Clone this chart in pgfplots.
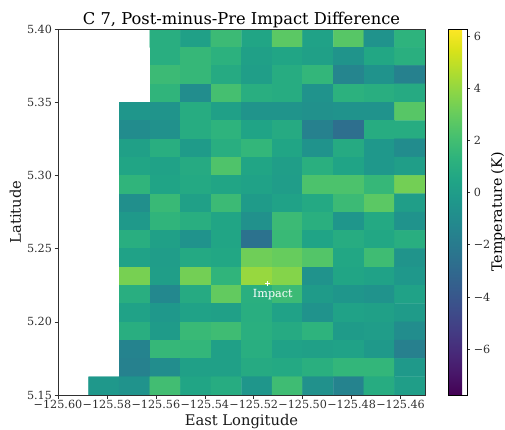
\documentclass[border=0pt]{standalone}
\usepackage{pgfplots}
\usepackage{fontspec}
\setmainfont{DejaVu Serif}
\pgfplotsset{compat=1.18}
\definecolor{axc}{HTML}{303030}
\begin{document}
\begin{tikzpicture}[x=1pt,y=1pt]
\useasboundingbox (-58,-34) rectangle (447,395);
\begin{axis}[
  at={(0,0)},anchor=south west,
  scale only axis,width=367pt,height=366pt,
  xmin=-125.60,xmax=-125.45,ymin=5.15,ymax=5.40,
  axis on top,
  axis line style={color=axc,line width=0.7pt},
  tick align=outside,
  major tick length=3.5pt,
  tick style={color=axc,line width=0.6pt},
  xtick={-125.60,-125.58,-125.56,-125.54,-125.52,-125.50,-125.48,-125.46},
  xticklabels={−125.60,−125.58,−125.56,−125.54,−125.52,−125.50,−125.48,−125.46},
  ytick={5.15,5.20,5.25,5.30,5.35,5.40},
  yticklabels={5.15,5.20,5.25,5.30,5.35,5.40},
  xtick pos=bottom,ytick pos=left,
  ticklabel style={font=\fontsize{11.2}{12}\selectfont,color=axc},
  xticklabel style={yshift=1.5pt},
  yticklabel style={xshift=1pt},
  xlabel={East Longitude},ylabel={Latitude},
  label style={font=\fontsize{14.7}{16}\selectfont,color=black!90},
  xlabel style={yshift=2pt},
  ylabel style={yshift=-1pt},
  title={C 7, Post-minus-Pre Impact Difference},
  title style={font=\fontsize{16.3}{18}\selectfont,yshift=-8pt},
  colormap/viridis,
  point meta min=-7.76,point meta max=6.27,
  colorbar,
  colorbar style={
    at={(1.0627,1)},anchor=north west,
    width=18.7pt,
    ytick={-6,-4,-2,0,2,4,6},
    yticklabels={−6,−4,−2,0,2,4,6},
    ytick pos=right,
    yticklabel pos=right,
    tick align=outside,
    major tick length=3.5pt,
    yticklabel style={font=\fontsize{11.2}{12}\selectfont,color=axc},
    ylabel={Temperature (K)},
    ylabel style={font=\fontsize{14.2}{16}\selectfont,yshift=6pt},
  },
]
\addplot[matrix plot*,mesh/cols=11,mesh/ordering=x varies,point meta=explicit] coordinates {
(-125.58125,5.39375)[nan] (-125.56875,5.39375)[nan] (-125.55625,5.39375)[1.0] (-125.54375,5.39375)[0.2] (-125.53125,5.39375)[1.8] (-125.51875,5.39375)[0.5] (-125.50625,5.39375)[2.7] (-125.49375,5.39375)[0.3] (-125.48125,5.39375)[2.6] (-125.46875,5.39375)[-0.6] (-125.45625,5.39375)[1.3]
(-125.58125,5.38125)[nan] (-125.56875,5.38125)[nan] (-125.55625,5.38125)[1.0] (-125.54375,5.38125)[1.6] (-125.53125,5.38125)[1.2] (-125.51875,5.38125)[0.2] (-125.50625,5.38125)[0.5] (-125.49375,5.38125)[0.2] (-125.48125,5.38125)[-0.5] (-125.46875,5.38125)[0.6] (-125.45625,5.38125)[1.1]
(-125.58125,5.36875)[nan] (-125.56875,5.36875)[nan] (-125.55625,5.36875)[1.8] (-125.54375,5.36875)[1.6] (-125.53125,5.36875)[0.8] (-125.51875,5.36875)[0.1] (-125.50625,5.36875)[0.9] (-125.49375,5.36875)[1.5] (-125.48125,5.36875)[-1.4] (-125.46875,5.36875)[-0.6] (-125.45625,5.36875)[-1.6]
(-125.58125,5.35625)[nan] (-125.56875,5.35625)[nan] (-125.55625,5.35625)[1.4] (-125.54375,5.35625)[-0.9] (-125.53125,5.35625)[2.1] (-125.51875,5.35625)[1.0] (-125.50625,5.35625)[0.9] (-125.49375,5.35625)[-0.6] (-125.48125,5.35625)[1.2] (-125.46875,5.35625)[1.0] (-125.45625,5.35625)[0.8]
(-125.58125,5.34375)[nan] (-125.56875,5.34375)[-0.4] (-125.55625,5.34375)[-0.5] (-125.54375,5.34375)[0.9] (-125.53125,5.34375)[0.2] (-125.51875,5.34375)[-0.5] (-125.50625,5.34375)[-0.5] (-125.49375,5.34375)[-0.7] (-125.48125,5.34375)[-0.6] (-125.46875,5.34375)[-0.6] (-125.45625,5.34375)[2.6]
(-125.58125,5.33125)[nan] (-125.56875,5.33125)[-1.0] (-125.55625,5.33125)[-0.7] (-125.54375,5.33125)[0.9] (-125.53125,5.33125)[1.3] (-125.51875,5.33125)[0.4] (-125.50625,5.33125)[0.8] (-125.49375,5.33125)[-1.6] (-125.48125,5.33125)[-2.7] (-125.46875,5.33125)[0.9] (-125.45625,5.33125)[0.9]
(-125.58125,5.31875)[nan] (-125.56875,5.31875)[0.2] (-125.55625,5.31875)[1.0] (-125.54375,5.31875)[-0.1] (-125.53125,5.31875)[1.0] (-125.51875,5.31875)[1.5] (-125.50625,5.31875)[0.5] (-125.49375,5.31875)[-0.6] (-125.48125,5.31875)[0.8] (-125.46875,5.31875)[-0.3] (-125.45625,5.31875)[-1.0]
(-125.58125,5.30625)[nan] (-125.56875,5.30625)[0.5] (-125.55625,5.30625)[0.3] (-125.54375,5.30625)[0.8] (-125.53125,5.30625)[2.4] (-125.51875,5.30625)[0.5] (-125.50625,5.30625)[0.1] (-125.49375,5.30625)[1.1] (-125.48125,5.30625)[0.4] (-125.46875,5.30625)[-0.3] (-125.45625,5.30625)[0.1]
(-125.58125,5.29375)[nan] (-125.56875,5.29375)[1.4] (-125.55625,5.29375)[0.4] (-125.54375,5.29375)[0.7] (-125.53125,5.29375)[0.5] (-125.51875,5.29375)[0.3] (-125.50625,5.29375)[0.0] (-125.49375,5.29375)[2.3] (-125.48125,5.29375)[2.3] (-125.46875,5.29375)[1.6] (-125.45625,5.29375)[3.3]
(-125.58125,5.28125)[nan] (-125.56875,5.28125)[-0.8] (-125.55625,5.28125)[1.7] (-125.54375,5.28125)[0.2] (-125.53125,5.28125)[1.8] (-125.51875,5.28125)[-0.1] (-125.50625,5.28125)[0.3] (-125.49375,5.28125)[0.7] (-125.48125,5.28125)[1.8] (-125.46875,5.28125)[2.7] (-125.45625,5.28125)[0.1]
(-125.58125,5.26875)[nan] (-125.56875,5.26875)[-0.2] (-125.55625,5.26875)[1.4] (-125.54375,5.26875)[1.0] (-125.53125,5.26875)[0.5] (-125.51875,5.26875)[-0.7] (-125.50625,5.26875)[1.8] (-125.49375,5.26875)[1.1] (-125.48125,5.26875)[-0.4] (-125.46875,5.26875)[0.7] (-125.45625,5.26875)[-0.6]
(-125.58125,5.25625)[nan] (-125.56875,5.25625)[1.0] (-125.55625,5.25625)[0.2] (-125.54375,5.25625)[-0.6] (-125.53125,5.25625)[0.5] (-125.51875,5.25625)[-2.5] (-125.50625,5.25625)[1.7] (-125.49375,5.25625)[0.4] (-125.48125,5.25625)[0.9] (-125.46875,5.25625)[0.6] (-125.45625,5.25625)[1.0]
(-125.58125,5.24375)[nan] (-125.56875,5.24375)[0.3] (-125.55625,5.24375)[0.0] (-125.54375,5.24375)[0.7] (-125.53125,5.24375)[0.6] (-125.51875,5.24375)[3.2] (-125.50625,5.24375)[3.0] (-125.49375,5.24375)[2.5] (-125.48125,5.24375)[0.6] (-125.46875,5.24375)[1.9] (-125.45625,5.24375)[-0.5]
(-125.58125,5.23125)[nan] (-125.56875,5.23125)[3.4] (-125.55625,5.23125)[0.1] (-125.54375,5.23125)[3.3] (-125.53125,5.23125)[1.4] (-125.51875,5.23125)[4.1] (-125.50625,5.23125)[3.7] (-125.49375,5.23125)[-0.6] (-125.48125,5.23125)[0.5] (-125.46875,5.23125)[0.3] (-125.45625,5.23125)[-0.3]
(-125.58125,5.21875)[nan] (-125.56875,5.21875)[1.0] (-125.55625,5.21875)[-1.2] (-125.54375,5.21875)[0.8] (-125.53125,5.21875)[2.9] (-125.51875,5.21875)[1.1] (-125.50625,5.21875)[1.8] (-125.49375,5.21875)[-0.1] (-125.48125,5.21875)[-0.4] (-125.46875,5.21875)[-0.6] (-125.45625,5.21875)[0.3]
(-125.58125,5.20625)[nan] (-125.56875,5.20625)[0.3] (-125.55625,5.20625)[-0.3] (-125.54375,5.20625)[0.3] (-125.53125,5.20625)[0.2] (-125.51875,5.20625)[1.0] (-125.50625,5.20625)[0.3] (-125.49375,5.20625)[-0.6] (-125.48125,5.20625)[0.3] (-125.46875,5.20625)[0.2] (-125.45625,5.20625)[-0.1]
(-125.58125,5.19375)[nan] (-125.56875,5.19375)[1.0] (-125.55625,5.19375)[-0.1] (-125.54375,5.19375)[1.7] (-125.53125,5.19375)[1.9] (-125.51875,5.19375)[1.1] (-125.50625,5.19375)[0.8] (-125.49375,5.19375)[1.3] (-125.48125,5.19375)[-0.1] (-125.46875,5.19375)[0.0] (-125.45625,5.19375)[-0.9]
(-125.58125,5.18125)[nan] (-125.56875,5.18125)[-1.5] (-125.55625,5.18125)[1.6] (-125.54375,5.18125)[1.5] (-125.53125,5.18125)[0.2] (-125.51875,5.18125)[1.0] (-125.50625,5.18125)[0.3] (-125.49375,5.18125)[0.2] (-125.48125,5.18125)[0.3] (-125.46875,5.18125)[-0.2] (-125.45625,5.18125)[-1.7]
(-125.58125,5.16875)[nan] (-125.56875,5.16875)[-1.6] (-125.55625,5.16875)[-0.9] (-125.54375,5.16875)[0.2] (-125.53125,5.16875)[0.2] (-125.51875,5.16875)[0.8] (-125.50625,5.16875)[0.7] (-125.49375,5.16875)[1.1] (-125.48125,5.16875)[1.5] (-125.46875,5.16875)[1.5] (-125.45625,5.16875)[-0.2]
(-125.58125,5.15625)[-0.3] (-125.56875,5.15625)[-0.6] (-125.55625,5.15625)[2.0] (-125.54375,5.15625)[0.5] (-125.53125,5.15625)[0.9] (-125.51875,5.15625)[-0.4] (-125.50625,5.15625)[1.9] (-125.49375,5.15625)[-0.7] (-125.48125,5.15625)[-1.5] (-125.46875,5.15625)[0.9] (-125.45625,5.15625)[0.1]
};
\addplot[only marks,mark=+,mark size=2.6pt,white,line width=0.9pt] coordinates {(-125.5143,5.226)};
\node[white,font=\fontsize{11.2}{12}\selectfont] at (axis cs:-125.5122,5.2185) {Impact};
\end{axis}
\end{tikzpicture}
\end{document}
